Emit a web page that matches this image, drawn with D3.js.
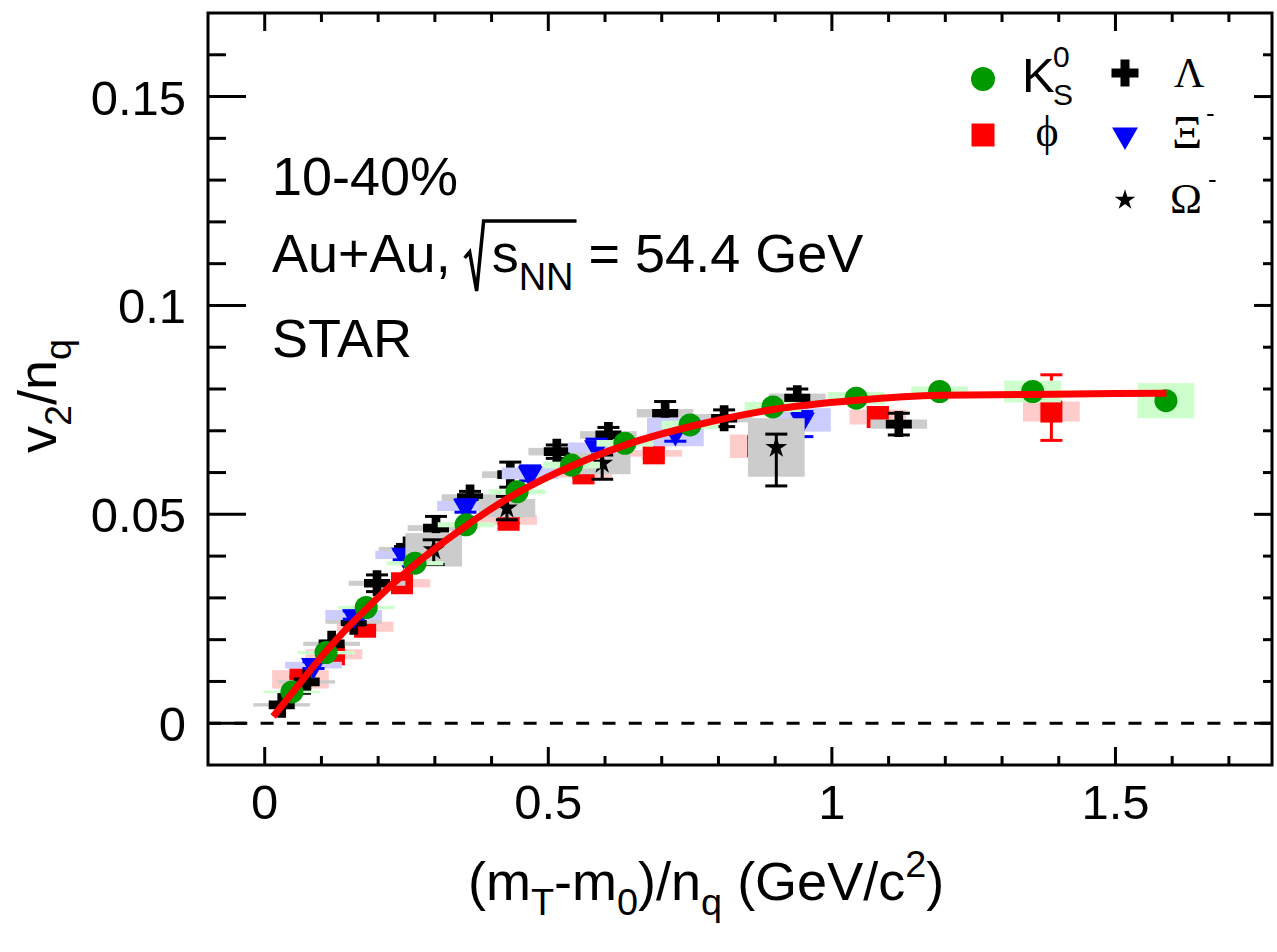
<!DOCTYPE html>
<html>
<head>
<meta charset="utf-8">
<script src="https://cdn.jsdelivr.net/npm/d3@7"></script>
<style>
  body { margin: 0; background: #fff; }
  svg { display: block; background: #fff; }
  text { font-family: "Liberation Sans", Arial, Helvetica, sans-serif; fill: #000; }
  .greek { font-family: "Liberation Serif", "DejaVu Serif", "Times New Roman", serif; }
</style>
</head>
<body>
<div id="chart"></div>
<script>
// ---- data: v2/nq vs (mT-m0)/nq, 10-40% Au+Au 54.4 GeV ----

// K0S
const ksX   = [0.048, 0.108, 0.179, 0.265, 0.355, 0.445, 0.541, 0.635, 0.750, 0.896, 1.043, 1.190, 1.354, 1.589];
const ksY   = [0.0075, 0.0169, 0.0277, 0.0383, 0.0475, 0.0554, 0.0618, 0.0670, 0.0714, 0.0757, 0.0778, 0.0794, 0.0794, 0.0772];
const ksErr = [0.0002, 0.0002, 0.0003, 0.0003, 0.0004, 0.0004, 0.0005, 0.0005, 0.0006, 0.0008, 0.0009, 0.0012, 0.0016, 0.0022];
const ksSys = [0.0003, 0.0004, 0.0004, 0.0005, 0.0006, 0.0006, 0.0008, 0.0008, 0.0010, 0.0012, 0.0015, 0.0012, 0.0026, 0.0042];

// phi
const phiX   = [0.063, 0.122, 0.177, 0.242, 0.430, 0.562, 0.686, 0.870, 1.081, 1.387];
const phiY   = [0.0105, 0.0165, 0.0231, 0.0335, 0.0487, 0.0598, 0.0646, 0.0663, 0.0733, 0.0746];
const phiUp  = [0.0006, 0.0006, 0.0007, 0.0008, 0.0009, 0.0010, 0.0012, 0.0020, 0.0022, 0.0088];
const phiDn  = [0.0006, 0.0006, 0.0007, 0.0008, 0.0009, 0.0010, 0.0012, 0.0020, 0.0022, 0.0069];
const phiSys = [0.0022, 0.0012, 0.0012, 0.0010, 0.0012, 0.0010, 0.0008, 0.0028, 0.0018, 0.0024];

// Lambda
const lamX   = [0.030, 0.074, 0.118, 0.157, 0.198, 0.251, 0.302, 0.362, 0.433, 0.515, 0.606, 0.706, 0.810, 0.939, 1.118];
const lamY   = [0.0044, 0.0099, 0.0190, 0.0243, 0.0335, 0.0416, 0.0467, 0.0540, 0.0595, 0.0650, 0.0690, 0.0742, 0.0730, 0.0778, 0.0716];
const lamErr = [0.0004, 0.0005, 0.0006, 0.0008, 0.0020, 0.0012, 0.0028, 0.0015, 0.0030, 0.0016, 0.0018, 0.0028, 0.0020, 0.0022, 0.0026];
const lamSys = [0.0004, 0.0004, 0.0005, 0.0005, 0.0006, 0.0006, 0.0007, 0.0008, 0.0008, 0.0009, 0.0009, 0.0010, 0.0010, 0.0011, 0.0011];

// Xi-
const xiX   = [0.086, 0.157, 0.245, 0.354, 0.468, 0.585, 0.724, 0.948];
const xiY   = [0.0139, 0.0259, 0.0403, 0.0520, 0.0598, 0.0660, 0.0697, 0.0726];
const xiUp  = [0.0008, 0.0010, 0.0012, 0.0015, 0.0018, 0.0020, 0.0022, 0.0020];
const xiDn  = [0.0008, 0.0010, 0.0012, 0.0015, 0.0018, 0.0020, 0.0022, 0.0040];
const xiSys = [0.0008, 0.0012, 0.0010, 0.0012, 0.0014, 0.0012, 0.0034, 0.0028];

// Omega-
const omX   = [0.298, 0.427, 0.595, 0.902];
const omY   = [0.0415, 0.0515, 0.0622, 0.0660];
const omUp  = [0.0024, 0.0028, 0.0020, 0.0032];
const omDn  = [0.0035, 0.0028, 0.0038, 0.0092];
const omSys = [0.0040, 0.0022, 0.0026, 0.0070];

// NCQ fit curve
const fitX = [0.015, 0.048, 0.115, 0.186, 0.257, 0.345, 0.445, 0.540, 0.640, 0.756, 0.896, 1.043, 1.190, 1.350, 1.500, 1.590];
const fitY = [0.0016, 0.0072, 0.0183, 0.0283, 0.0371, 0.0463, 0.0551, 0.0615, 0.0668, 0.0712, 0.0751, 0.0773, 0.0785, 0.0787, 0.0789, 0.0790];

// axis ticks
const xMajor = [0, 0.5, 1, 1.5];
const xMajorLabels = ["0", "0.5", "1", "1.5"];
const xMinor = [0.1, 0.2, 0.3, 0.4, 0.6, 0.7, 0.8, 0.9, 1.1, 1.2, 1.3, 1.4, 1.6, 1.7];
const yMajor = [0, 0.05, 0.1, 0.15];
const yMajorLabels = ["0", "0.05", "0.1", "0.15"];
const yMinor = [0.01, 0.02, 0.03, 0.04, 0.06, 0.07, 0.08, 0.09, 0.11, 0.12, 0.13, 0.14, 0.16];

const width = 1277, height = 952;
const frame = { left: 208, right: 1272, top: 13, bottom: 765 };

const svg = d3.select("#chart").append("svg")
  .attr("width", width)
  .attr("height", height);

const x = d3.scaleLinear().domain([-0.1, 1.776]).range([frame.left, frame.right]);
const y = d3.scaleLinear().domain([-0.01, 0.17]).range([frame.bottom, frame.top]);

const plot = svg.append("g");

// zero line
plot.append("line")
  .attr("x1", frame.left).attr("x2", frame.right)
  .attr("y1", y(0)).attr("y2", y(0))
  .attr("stroke", "#000").attr("stroke-width", 3)
  .attr("stroke-dasharray", "13,13.3");

const sysHalfW = 0.05;   // half width of systematic boxes, in x units
const capHalf = 11;

function drawSeries(s) {
  const g = plot.append("g");
  const idx = d3.range(s.x.length);
  // systematic boxes
  g.selectAll("rect.sys").data(idx).enter().append("rect")
    .attr("x", i => x(s.x[i] - sysHalfW))
    .attr("width", i => x(s.x[i] + sysHalfW) - x(s.x[i] - sysHalfW))
    .attr("y", i => y(s.y[i] + s.sys[i]))
    .attr("height", i => Math.max(2, y(s.y[i] - s.sys[i]) - y(s.y[i] + s.sys[i])))
    .attr("fill", s.boxColor);
  // statistical error bars
  g.selectAll("line.err").data(idx).enter().append("line")
    .attr("x1", i => x(s.x[i])).attr("x2", i => x(s.x[i]))
    .attr("y1", i => y(s.y[i] + s.up[i])).attr("y2", i => y(s.y[i] - s.dn[i]))
    .attr("stroke", s.color).attr("stroke-width", 3);
  if (s.caps) {
    idx.forEach(i => {
      [s.y[i] + s.up[i], s.y[i] - s.dn[i]].forEach(v => {
        g.append("line")
          .attr("x1", x(s.x[i]) - capHalf).attr("x2", x(s.x[i]) + capHalf)
          .attr("y1", y(v)).attr("y2", y(v))
          .attr("stroke", s.color).attr("stroke-width", 3);
      });
    });
  }
  // markers
  g.selectAll("path.mk").data(idx).enter().append("path")
    .attr("d", d3.symbol().type(s.symbol).size(s.size))
    .attr("transform", i => `translate(${x(s.x[i])},${y(s.y[i])})${s.rotate ? " rotate(" + s.rotate + ")" : ""}`)
    .attr("fill", s.color);
}

const sym = {
  circle: { symbol: d3.symbolCircle, size: Math.PI * 11.5 * 11.5 },
  square: { symbol: d3.symbolSquare, size: 22 * 22 },
  cross:  { symbol: d3.symbolCross, size: 5 * Math.pow(26 / 3, 2) },
  tri:    { symbol: d3.symbolTriangle, size: 270, rotate: 180 },
  star:   { symbol: d3.symbolStar, size: 150 }
};

// draw order as in the figure: phi, Lambda, Xi, Omega, K0S, then the fit
drawSeries({ x: phiX, y: phiY, up: phiUp, dn: phiDn, sys: phiSys, color: "#ff0000", boxColor: "#ffcccc", caps: true, ...sym.square });
drawSeries({ x: lamX, y: lamY, up: lamErr, dn: lamErr, sys: lamSys, color: "#000000", boxColor: "#cccccc", caps: true, ...sym.cross });
drawSeries({ x: xiX, y: xiY, up: xiUp, dn: xiDn, sys: xiSys, color: "#0000ff", boxColor: "#ccccff", caps: true, ...sym.tri });
drawSeries({ x: omX, y: omY, up: omUp, dn: omDn, sys: omSys, color: "#000000", boxColor: "#cccccc", caps: true, ...sym.star });
drawSeries({ x: ksX, y: ksY, up: ksErr, dn: ksErr, sys: ksSys, color: "#009900", boxColor: "#ccffcc", caps: false, ...sym.circle });

const fitLine = d3.line()
  .x((d, i) => x(fitX[i]))
  .y((d, i) => y(fitY[i]))
  .curve(d3.curveMonotoneX);

plot.append("path")
  .attr("d", fitLine(fitX))
  .attr("fill", "none")
  .attr("stroke", "#ff0000")
  .attr("stroke-width", 7);

// ---- frame and ticks ----
const axes = svg.append("g").attr("stroke", "#000").attr("stroke-width", 3);

axes.append("rect")
  .attr("x", frame.left).attr("y", frame.top)
  .attr("width", frame.right - frame.left).attr("height", frame.bottom - frame.top)
  .attr("fill", "none");

function ticksX(vals, len) {
  vals.forEach(v => {
    axes.append("line").attr("x1", x(v)).attr("x2", x(v))
      .attr("y1", frame.bottom).attr("y2", frame.bottom - len);
    axes.append("line").attr("x1", x(v)).attr("x2", x(v))
      .attr("y1", frame.top).attr("y2", frame.top + len);
  });
}
function ticksY(vals, lenL, lenR) {
  vals.forEach(v => {
    axes.append("line").attr("y1", y(v)).attr("y2", y(v))
      .attr("x1", frame.left).attr("x2", frame.left + lenL);
    axes.append("line").attr("y1", y(v)).attr("y2", y(v))
      .attr("x1", frame.right).attr("x2", frame.right - lenR);
  });
}
ticksX(xMajor, 18);
ticksX(xMinor, 9);
ticksY(yMajor, 38, 18);
ticksY(yMinor, 18, 9);

// tick labels
svg.append("g").selectAll("text").data(xMajor).enter().append("text")
  .attr("x", d => x(d)).attr("y", 819)
  .attr("text-anchor", "middle").attr("font-size", 49)
  .text((d, i) => xMajorLabels[i]);

svg.append("g").selectAll("text").data(yMajor).enter().append("text")
  .attr("x", 186).attr("y", d => y(d) + 18)
  .attr("text-anchor", "end").attr("font-size", 49)
  .text((d, i) => yMajorLabels[i]);

// text with sub/superscripts
function rich(parent, px, py, size, parts, anchor) {
  const t = parent.append("text")
    .attr("x", px).attr("y", py)
    .attr("font-size", size)
    .attr("text-anchor", anchor || "start");
  let shift = 0;
  parts.forEach(p => {
    const target = p.sub ? 0.28 * size : p.sup ? -0.42 * size : 0;
    const ts = t.append("tspan").attr("dy", target - shift).text(p.t);
    if (p.sub || p.sup) ts.attr("font-size", size * 0.7);
    shift = target;
  });
  return t;
}

// axis titles
rich(svg, 468, 900, 54, [
  { t: "(m" }, { t: "T", sub: true }, { t: "-m" }, { t: "0", sub: true },
  { t: ")/n" }, { t: "q", sub: true }, { t: " (GeV/c" }, { t: "2", sup: true }, { t: ")" }
]);

rich(svg, 0, 0, 54, [
  { t: "v" }, { t: "2", sub: true }, { t: "/n" }, { t: "q", sub: true }
], "middle").attr("transform", "translate(56,396) rotate(-90)");

// labels in the plot
svg.append("text").attr("x", 272).attr("y", 195).attr("font-size", 54).text("10-40%");
svg.append("text").attr("x", 272).attr("y", 357).attr("font-size", 54).text("STAR");

const au = svg.append("text").attr("x", 272).attr("y", 272).attr("font-size", 54).text("Au+Au,");
const rx = 272 + au.node().getComputedTextLength() + 14;
const sTxt = svg.append("text").attr("x", rx + 27).attr("y", 272).attr("font-size", 54).text("s");
const nnX = rx + 27 + sTxt.node().getComputedTextLength();
const nnTxt = svg.append("text").attr("x", nnX).attr("y", 290).attr("font-size", 38).text("NN");
const nnEnd = nnX + nnTxt.node().getComputedTextLength();
svg.append("path")
  .attr("d", `M${rx},258 L${rx + 5},252 L${rx + 12},291 L${rx + 19},221 H${nnEnd + 3}`)
  .attr("fill", "none").attr("stroke", "#000").attr("stroke-width", 3.5)
  .attr("stroke-linejoin", "miter");
svg.append("text").attr("x", nnEnd).attr("y", 272).attr("font-size", 54)
  .attr("xml:space", "preserve").style("white-space", "pre").text(" = 54.4 GeV");

// ---- legend ----
const leg = svg.append("g");
function legMark(s, px, py, color) {
  leg.append("path")
    .attr("d", d3.symbol().type(s.symbol).size(s.size))
    .attr("transform", `translate(${px},${py})${s.rotate ? " rotate(" + s.rotate + ")" : ""}`)
    .attr("fill", color);
}
legMark({ symbol: d3.symbolCircle, size: Math.PI * 12 * 12 }, 983, 79, "#009900");
legMark({ symbol: d3.symbolSquare, size: 23 * 23 }, 983, 135, "#ff0000");
legMark({ symbol: d3.symbolCross, size: 5 * 81 }, 1125, 73, "#000");
legMark({ symbol: d3.symbolTriangle, size: 290, rotate: 180 }, 1125, 135, "#0000ff");
legMark({ symbol: d3.symbolStar, size: 130 }, 1125, 200, "#000");

leg.append("text").attr("x", 1022).attr("y", 92).attr("font-size", 49).text("K");
leg.append("text").attr("x", 1053).attr("y", 67).attr("font-size", 30).text("0");
leg.append("text").attr("x", 1053).attr("y", 105).attr("font-size", 30).text("S");

leg.append("text").attr("class", "greek").attr("x", 1047).attr("y", 146).attr("font-size", 44)
  .attr("text-anchor", "middle").text("\u03D5");
leg.append("text").attr("class", "greek").attr("x", 1174).attr("y", 87).attr("font-size", 42).text("\u039B");
leg.append("text").attr("class", "greek").attr("x", 1172).attr("y", 148).attr("font-size", 47).text("\u039E");
leg.append("text").attr("x", 1206).attr("y", 122).attr("font-size", 26).text("-");
leg.append("text").attr("class", "greek").attr("x", 1170).attr("y", 213).attr("font-size", 43).text("\u03A9");
leg.append("text").attr("x", 1208).attr("y", 188).attr("font-size", 26).text("-");
</script>
</body>
</html>
